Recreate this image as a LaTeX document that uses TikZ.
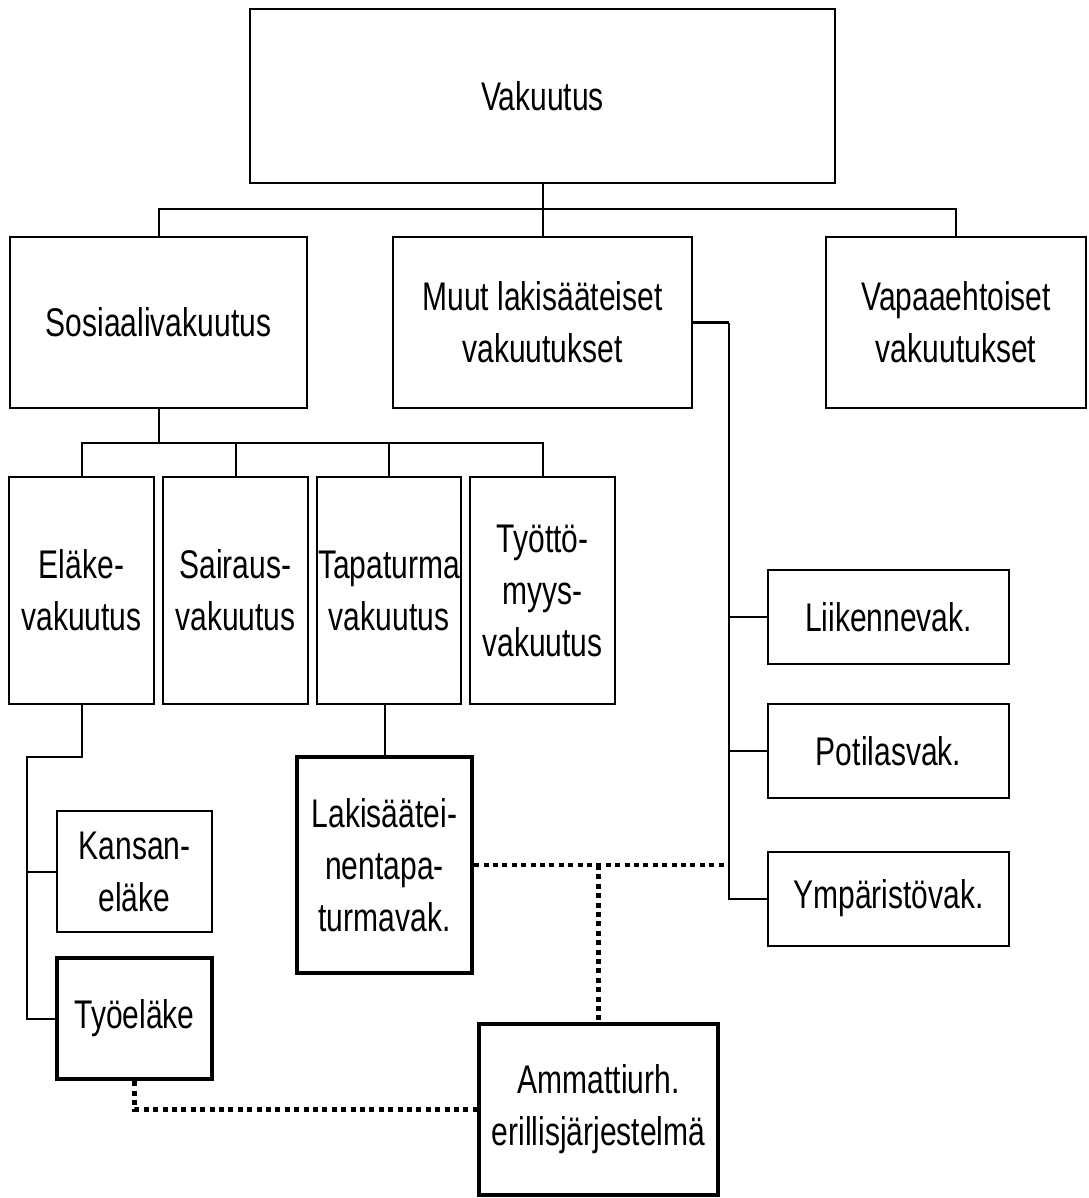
\documentclass[tikz,border=0pt]{standalone}
\usepackage{fontspec}
\setmainfont[FakeStretch=0.75]{Liberation Sans}
\begin{document}
\begin{tikzpicture}[x=0.5pt,y=-0.5pt,
  box/.style={draw,line width=1pt,rectangle,inner sep=0pt,align=center,
    font=\fontsize{20}{26}\selectfont},
  thickbox/.style={box,line width=2.2pt},
  conn/.style={line width=1pt},
  dotline/.style={line width=2.4pt,dash pattern=on 2.5pt off 2.2pt}]
\useasboundingbox (0,0) rectangle (1088,1198);
% top level
\node[box,minimum width=292.5pt,minimum height=87pt] (vak) at (542.5,96) {Vakuutus};
\node[box,minimum width=148.5pt,minimum height=85.5pt] (sos) at (158.5,322.5) {Sosiaalivakuutus};
\node[box,minimum width=149.5pt,minimum height=85.5pt] (muu) at (542.5,322.5) {Muut lakisääteiset\\vakuutukset};
\node[box,minimum width=130pt,minimum height=85.5pt] (vap) at (956,322.5) {Vapaaehtoiset\\vakuutukset};
% level 2
\node[box,minimum width=72.5pt,minimum height=113.5pt] (ela) at (81.5,590.5) {Eläke-\\vakuutus};
\node[box,minimum width=72.5pt,minimum height=113.5pt] (sai) at (235.5,590.5) {Sairaus-\\vakuutus};
\node[box,minimum width=72pt,minimum height=113.5pt] (tap) at (389,590.5) {Tapaturma\\vakuutus};
\node[box,minimum width=72.5pt,minimum height=113.5pt] (tyo) at (542.5,590.5) {Työttö-\\myys-\\vakuutus};
% level 3
\node[box,minimum width=77.5pt,minimum height=60.5pt] (kan) at (134.5,871.5) {Kansan-\\eläke};
\node[thickbox,minimum width=77.5pt,minimum height=60.5pt] (tel) at (134.5,1018.5) {Työeläke};
\node[thickbox,minimum width=87.5pt,minimum height=108pt] (lak) at (384.5,865) {Lakisäätei-\\nentapa-\\turmavak.};
\node[box,minimum width=120.5pt,minimum height=47pt] (lii) at (888.5,617) {Liikennevak.};
\node[box,minimum width=120.5pt,minimum height=47pt] (pot) at (888.5,751) {Potilasvak.};
\node[box,minimum width=120.5pt,minimum height=47pt] (ymp) at (888.5,898.5) {Ympäristövak.};
\node[thickbox,minimum width=119.5pt,minimum height=85.5pt] (amm) at (598.5,1109.5) {Ammattiurh.\\erillisjärjestelmä};
% connectors
\coordinate (j1) at (542.5,209);
\coordinate (j2) at (158.5,443);
\coordinate (e1) at (27,757);
\coordinate (m1) at (729,322.5);
\draw[conn] (vak.south) -- (muu.north);
\draw[conn] (sos.north) |- (j1) -| (vap.north);
\draw[conn] (sos.south) -- (j2);
\draw[conn] (ela.north) |- (j2) -| (tyo.north);
\draw[conn] (sai.north) -- (sai.north |- j2);
\draw[conn] (tap.north) -- (tap.north |- j2);
\draw[conn] (ela.south) |- (e1) |- (tel.west);
\draw[conn] (e1 |- kan.west) -- (kan.west);
\draw[conn] (lak.north) -- (lak.north |- tap.south);
\draw[conn,line width=1.4pt] (muu.east) -- (m1);
\draw[conn] (m1) |- (ymp.west);
\draw[conn] (m1 |- lii.west) -- (lii.west);
\draw[conn] (m1 |- pot.west) -- (pot.west);
% dotted links
\draw[dotline] (lak.east) -- (m1 |- lak.east);
\draw[dotline] (amm.north |- lak.east) -- (amm.north);
\draw[dotline] (tel.south) |- (amm.west);
\end{tikzpicture}
\end{document}
